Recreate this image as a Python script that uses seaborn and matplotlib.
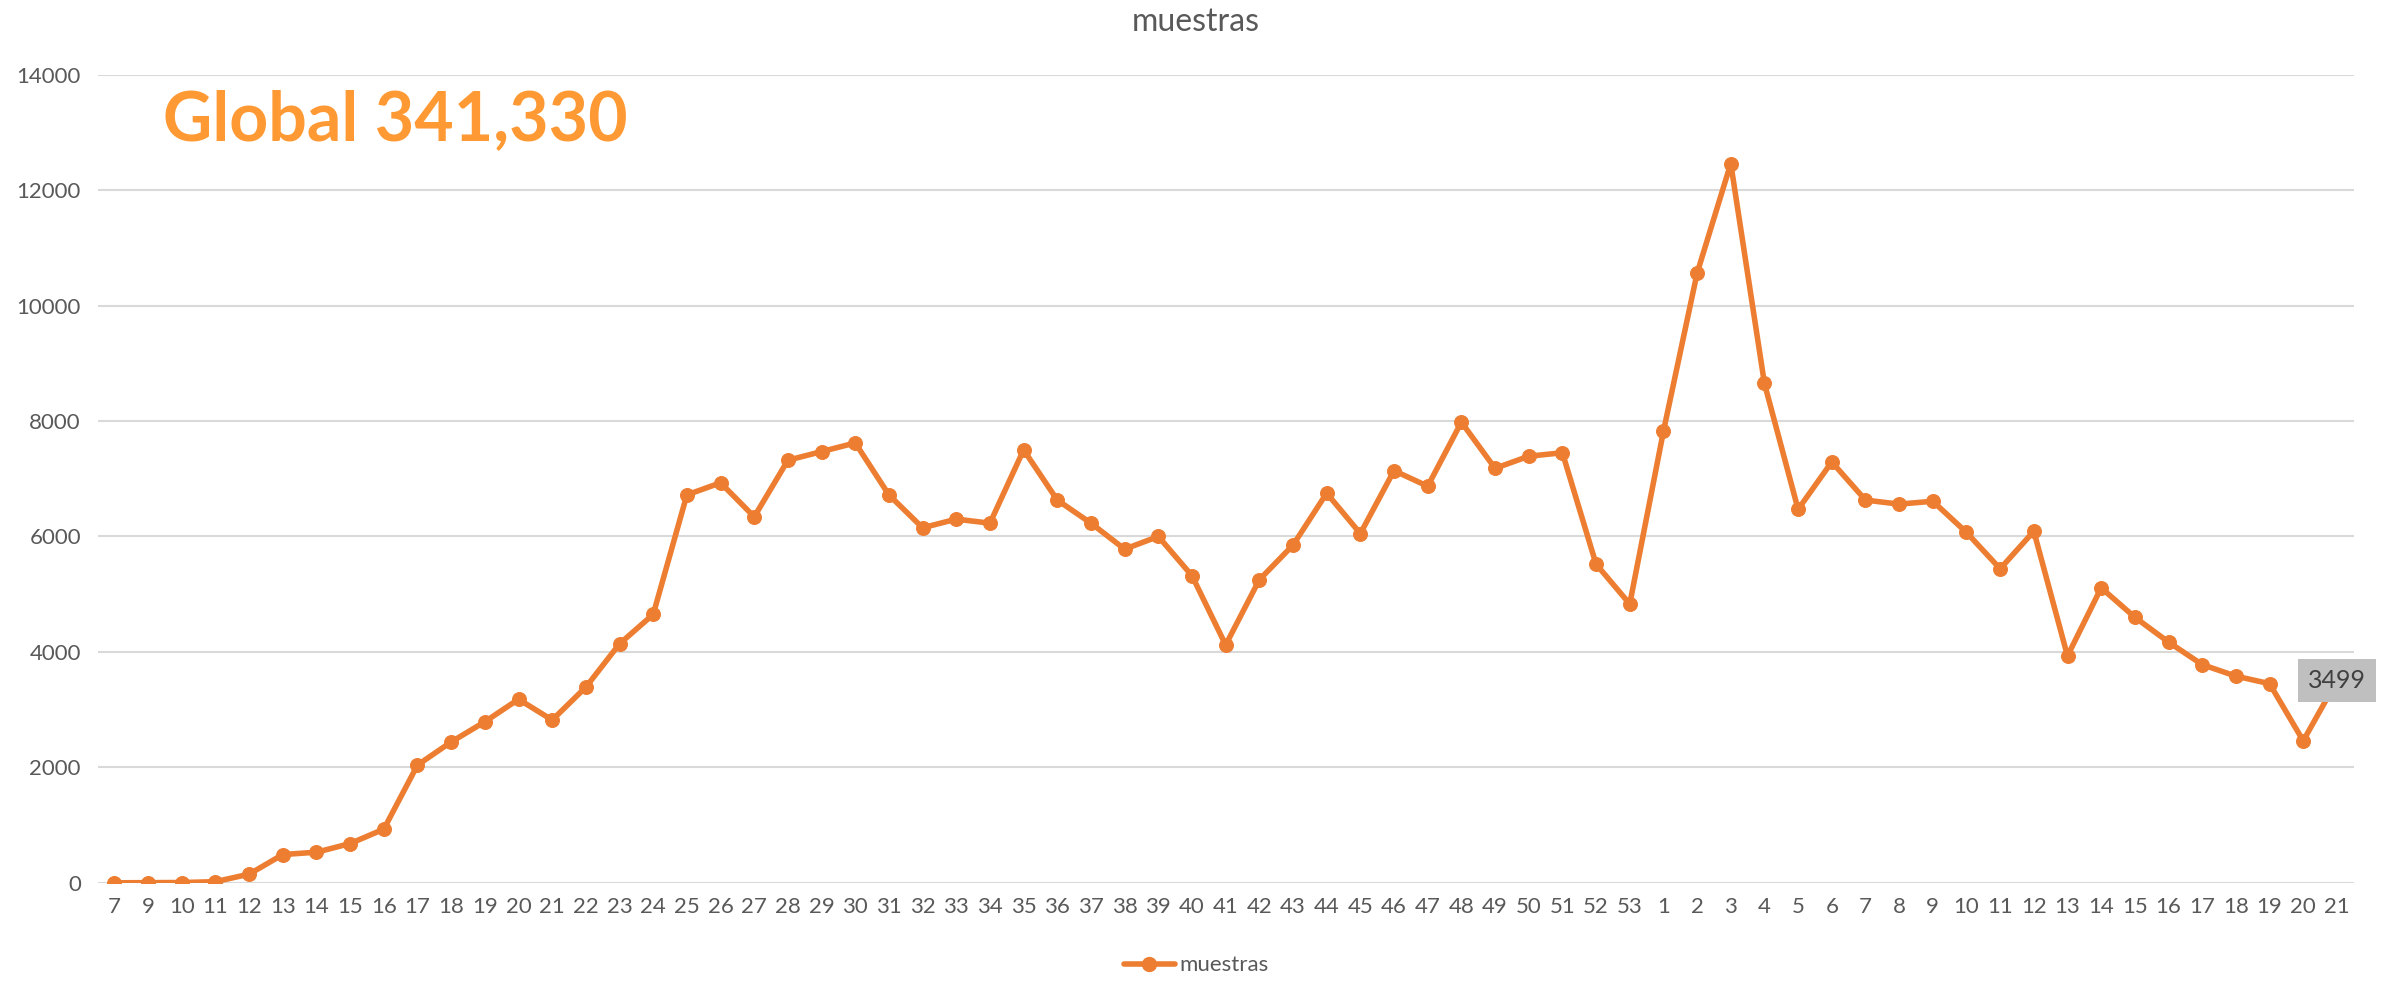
import matplotlib
matplotlib.use("Agg")
import matplotlib.pyplot as plt
from matplotlib.lines import Line2D
import seaborn as sns
import pandas as pd

# semanas epidemiologicas (2020: 7..53, 2021: 1..21)
semanas = [7, 9, 10, 11, 12, 13, 14, 15, 16, 17, 18, 19, 20, 21, 22, 23, 24, 25,
           26, 27, 28, 29, 30, 31, 32, 33, 34, 35, 36, 37, 38, 39, 40, 41, 42, 43,
           44, 45, 46, 47, 48, 49, 50, 51, 52, 53,
           1, 2, 3, 4, 5, 6, 7, 8, 9, 10, 11, 12, 13, 14, 15, 16, 17, 18, 19, 20, 21]

muestras = [0, 3, 5, 20, 150, 490, 530, 680, 930, 2040, 2440, 2790, 3180, 2820,
            3390, 4140, 4650, 6720, 6930, 6340, 7320, 7470, 7620, 6720, 6150, 6300,
            6230, 7500, 6630, 6230, 5780, 6000, 5320, 4120, 5250, 5850, 6750, 6050,
            7140, 6870, 7980, 7180, 7390, 7450, 5520, 4830,
            7820, 10560, 12460, 8650, 6470, 7290, 6630, 6560, 6610, 6070, 5440, 6090,
            3930, 5110, 4600, 4170, 3780, 3580, 3450, 2460, 3499]

titulo = "muestras"
texto_global = "Global 341,330"

df = pd.DataFrame({"pos": range(len(semanas)), "muestras": muestras})

sns.set_theme(style="white")
plt.rcParams['font.family'] = ['Lato', 'DejaVu Sans']

naranja = "#ED7D31"
gris = "#595959"

fig = plt.figure(figsize=(23.92, 9.82), dpi=100)
ax = fig.add_axes([0.0408, 0.101, 0.9432, 0.823])

sns.lineplot(data=df, x="pos", y="muestras", ax=ax, color=naranja, lw=4,
             marker='o', markersize=10, markeredgecolor=naranja, legend=False)

ax.set_xlim(-0.5, len(semanas) - 0.5)
ax.set_ylim(0, 14000)
ax.set_yticks(range(0, 14001, 2000))
ax.set_xticks(df["pos"])
ax.set_xticklabels(semanas)
ax.yaxis.grid(True, color="#D9D9D9", lw=1.5)
ax.set_axisbelow(True)
for s in ax.spines.values():
    s.set_visible(False)
ax.tick_params(axis='both', length=0, labelsize=16, colors=gris)
ax.tick_params(axis='y', pad=12)
ax.tick_params(axis='x', pad=10)
ax.set_xlabel("")
ax.set_ylabel("")

# etiqueta del ultimo valor
ultimo = len(muestras) - 1
ax.text(ultimo, muestras[ultimo], str(muestras[ultimo]), ha='center', va='center',
        fontsize=18, color="#404040",
        bbox=dict(boxstyle='square,pad=0.4', facecolor='#BFBFBF', edgecolor='none'))

fig.text(0.5, 0.978, titulo, ha='center', va='center', fontsize=23, color=gris)
fig.text(0.0682, 0.857, texto_global, ha='left', va='baseline', fontsize=49,
         fontweight='bold', color="#FF9933")

handle = Line2D([], [], color=naranja, lw=4, marker='o', markersize=10)
fig.legend([handle], [titulo], loc='center', bbox_to_anchor=(0.5, 0.017),
           frameon=False, fontsize=16, handlelength=2.3, handletextpad=0.2,
           labelcolor=gris)

fig.savefig("out.png", dpi=100)
